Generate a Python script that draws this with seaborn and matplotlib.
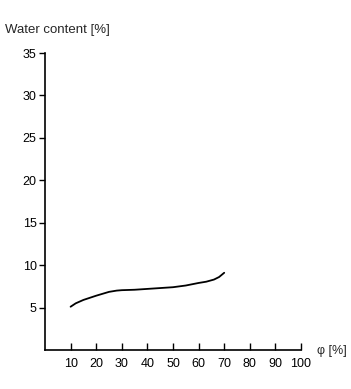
import pandas as pd
import matplotlib.pyplot as plt
import seaborn as sns

# relative humidity phi [%] and water content [%]
phi = [10, 12, 15, 20, 25, 28, 30, 35, 40, 45, 50, 55, 60, 63, 66, 68, 70]
water = [5.1, 5.5, 5.9, 6.4, 6.85, 7.0, 7.05, 7.1, 7.2, 7.3, 7.4, 7.6, 7.9, 8.05, 8.3, 8.6, 9.1]
x_ticks = [10, 20, 30, 40, 50, 60, 70, 80, 90, 100]
y_ticks = [5, 10, 15, 20, 25, 30, 35]

df = pd.DataFrame({'phi': phi, 'water': water})

sns.set_style('ticks')
plt.rcParams['font.family'] = ['Liberation Sans', 'DejaVu Sans']

W, H = 351, 389
fig = plt.figure(figsize=(W / 100, H / 100), dpi=100)
ax = fig.add_axes([45 / W, (H - 350) / H, (301 - 45) / W, (350 - 53) / H])

sns.lineplot(data=df, x='phi', y='water', ax=ax, color='black', linewidth=1.3)

ax.set_xlim(0, 100)
ax.set_ylim(0, 35)
ax.set_xticks(x_ticks)
ax.set_yticks(y_ticks)
ax.set_xlabel('')
ax.set_ylabel('')
sns.despine(ax=ax)
for s in ['left', 'bottom']:
    ax.spines[s].set_linewidth(1.2)
    ax.spines[s].set_color('black')
ax.tick_params(axis='x', direction='in', length=5, width=1, pad=6, labelsize=9, colors='black')
ax.tick_params(axis='y', direction='out', length=4, width=1, pad=2, labelsize=9, colors='black')

fig.text(5 / W, 1 - 30 / H, 'Water content [%]', fontsize=9.5, va='center', ha='left')
fig.text(317 / W, 1 - 351 / H, 'φ [%]', fontsize=9, va='center', ha='left')

fig.savefig('out.png', dpi=100)
